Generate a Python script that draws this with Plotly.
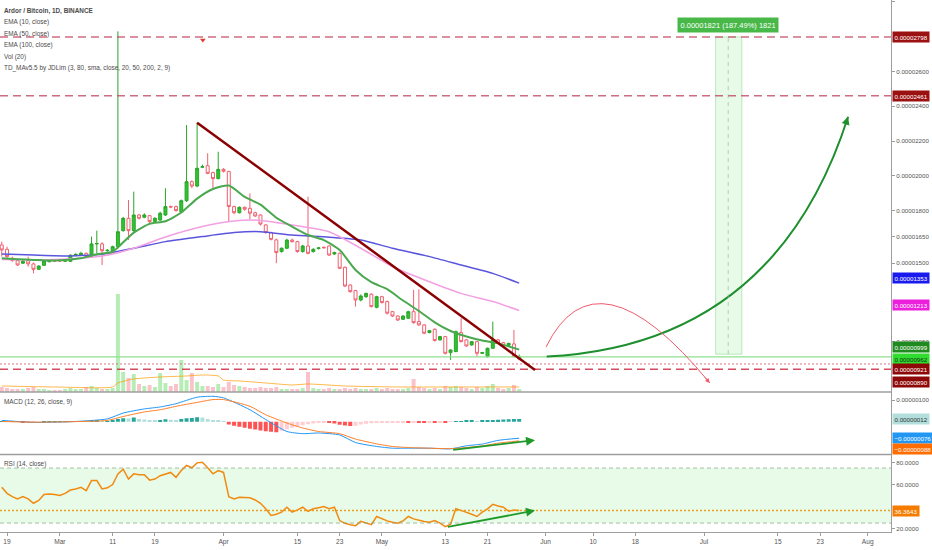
import numpy as np
import pandas as pd
import plotly.graph_objects as go

SAT = 1e-8  # prices are written in satoshi below
FONT = "Liberation Sans, Arial"

start = pd.Timestamp("2019-02-18")

# daily candles ARDR/BTC (satoshi)
opens = [1604, 1579, 1527, 1514, 1499, 1514, 1495, 1464, 1487, 1508,
         1514, 1516, 1510, 1510, 1543, 1546, 1556, 1537, 1610, 1610,
         1571, 1571, 1594, 1686, 1757, 1686, 1776, 1763, 1772, 1738,
         1747, 1776, 1824, 1824, 1795, 1858, 1967, 1942, 2050, 2059,
         2019, 1985, 2038, 2025, 1824, 1789, 1820, 1814, 1789, 1776,
         1719, 1675, 1633, 1566, 1585, 1632, 1623, 1566, 1598, 1566,
         1583, 1590, 1598, 1552, 1556, 1476, 1374, 1342, 1288, 1307,
         1321, 1246, 1307, 1279, 1221, 1196, 1177, 1183, 1221, 1164,
         1145, 1101, 1120, 1059, 1078, 986, 992, 1101, 1059, 1030,
         1049, 982, 963, 1011, 1059, 1043, 1028, 1036, 950]
highs = [1623, 1594, 1537, 1522, 1518, 1537, 1503, 1487, 1520, 1522,
         1520, 1522, 1520, 1550, 1556, 1565, 1560, 1652, 1686, 1620,
         1580, 1600, 2830, 1765, 1862, 1910, 1782, 1786, 1776, 1763,
         1795, 1929, 1830, 1830, 1865, 2292, 1975, 2306, 2065, 2130,
         2025, 2139, 2045, 2030, 1830, 1825, 1825, 1900, 1795, 1780,
         1722, 1680, 1640, 1590, 1640, 1640, 1628, 1605, 1881, 1585,
         1592, 1596, 1602, 1565, 1560, 1480, 1378, 1346, 1320, 1330,
         1326, 1312, 1312, 1285, 1225, 1200, 1200, 1226, 1346, 1349,
         1150, 1116, 1125, 1082, 1082, 1005, 1112, 1183, 1064, 1052,
         1053, 990, 1015, 1164, 1065, 1048, 1043, 1116, 975]
lows = [1537, 1522, 1508, 1483, 1495, 1479, 1441, 1460, 1483, 1503,
        1506, 1508, 1506, 1506, 1540, 1543, 1533, 1533, 1556, 1489,
        1565, 1565, 1590, 1680, 1633, 1680, 1750, 1757, 1730, 1732,
        1742, 1770, 1815, 1795, 1790, 1850, 1930, 1935, 2045, 2010,
        1929, 1980, 2020, 1738, 1780, 1785, 1800, 1751, 1765, 1715,
        1668, 1630, 1499, 1560, 1580, 1618, 1560, 1560, 1550, 1560,
        1578, 1584, 1540, 1546, 1465, 1362, 1330, 1250, 1280, 1300,
        1245, 1240, 1268, 1205, 1190, 1168, 1173, 1180, 1152, 1140,
        1092, 1097, 1050, 1055, 975, 944, 988, 1045, 1020, 1026,
        963, 978, 958, 1008, 1035, 1020, 1024, 958, 944]
closes = [1575, 1537, 1514, 1489, 1510, 1495, 1464, 1483, 1514, 1518,
          1512, 1512, 1516, 1545, 1550, 1556, 1537, 1610, 1612, 1571,
          1573, 1594, 1680, 1757, 1686, 1776, 1757, 1776, 1738, 1757,
          1786, 1824, 1822, 1801, 1858, 1967, 1942, 2044, 2053, 2015,
          1985, 2038, 2027, 1824, 1789, 1820, 1809, 1786, 1770, 1724,
          1675, 1636, 1560, 1585, 1632, 1623, 1566, 1598, 1556, 1579,
          1587, 1588, 1546, 1560, 1470, 1368, 1336, 1288, 1311, 1326,
          1250, 1307, 1273, 1212, 1196, 1173, 1196, 1221, 1158, 1145,
          1097, 1112, 1055, 1078, 982, 1001, 1106, 1049, 1024, 1049,
          982, 986, 1011, 1059, 1039, 1024, 1039, 963, 962]
volumes = [25, 20, 15, 15, 15, 20, 25, 15, 15, 10,
           10, 10, 15, 20, 15, 15, 25, 30, 20, 15,
           15, 20, 490, 100, 70, 90, 40, 30, 35, 25,
           95, 45, 30, 40, 160, 60, 95, 50, 30, 30,
           25, 40, 25, 50, 35, 30, 25, 20, 20, 25,
           20, 20, 25, 15, 15, 15, 15, 20, 100, 20,
           15, 15, 20, 15, 15, 20, 15, 20, 15, 15,
           15, 20, 15, 20, 15, 15, 15, 20, 65, 25,
           20, 15, 20, 15, 30, 25, 30, 25, 20, 15,
           25, 20, 30, 40, 20, 15, 20, 35, 15]

# moving averages read at sampled days (day index from start)
ema10_idx = [0, 3, 6, 9, 12, 15, 18, 21, 22, 25, 28, 31, 34, 37, 40, 43, 46, 49,
             52, 55, 58, 61, 64, 67, 70, 73, 76, 79, 82, 85, 88, 91, 94, 98]
ema10 = [1527, 1522, 1518, 1514, 1518, 1527, 1550, 1565, 1590, 1675, 1725, 1740,
         1790, 1870, 1925, 1945, 1880, 1835, 1760, 1709, 1661, 1632, 1575, 1460,
         1390, 1350, 1285, 1225, 1160, 1110, 1078, 1055, 1039, 1003]
ema50_idx = [0, 10, 19, 25, 31, 38, 44, 49, 55, 62, 68, 74, 81, 87, 93, 98]
ema50 = [1520, 1520, 1540, 1585, 1650, 1710, 1742, 1745, 1719, 1680, 1585, 1479,
         1393, 1326, 1279, 1228]
ema100_idx = [0, 6, 13, 19, 25, 31, 38, 44, 49, 55, 62, 68, 74, 81, 87, 93, 98]
ema100 = [1552, 1546, 1541, 1550, 1585, 1623, 1652, 1675, 1680, 1661, 1648, 1632,
          1585, 1537, 1489, 1441, 1385]
volma_idx = [0, 10, 21, 22, 25, 30, 35, 38, 41, 42, 45, 50, 55, 58, 65, 75, 85, 98]
volma = [30, 25, 25, 45, 65, 75, 80, 85, 80, 60, 55, 45, 35, 40, 30, 25, 25, 25]

# MACD (satoshi)
macd_idx = [0, 6, 13, 20, 23, 27, 30, 33, 37, 40, 42, 47, 50, 54, 57, 60, 64, 67,
            71, 74, 77, 81, 85, 88, 91, 94, 98]
macd = [6, -3, 0, 13, 40, 59, 68, 83, 113, 117, 110, 55, 10, -45, -55, -52, -61,
        -96, -114, -122, -122, -122, -125, -111, -103, -86, -76]
signal = [1, -2, 0, 6, 24, 45, 55, 71, 89, 102, 102, 71, 32, -6, -29, -45, -55,
          -80, -102, -114, -119, -122, -124, -119, -111, -99, -88]
macd_hist = [1, 0, -1, -1, -2, -2, -1, 0, 1, 1, 1, 2, 2, 2, 3, 3, 2, 4, 4, 3,
             3, 6, 13, 16, 15, 19, 13, 10, 6, 5, 6, 11, 9, 7, 13, 16, 17, 21, 19, 13,
             8, 6, 3, -13, -19, -23, -28, -32, -36, -40, -44, -46, -48, -42, -35, -28, -22, -16, -12, -8,
             -6, -5, -6, -8, -14, -18, -20, -19, -13, -9, -7, -6, -5, -4, -4, -3, -2, -3, -3, -4,
             -5, -3, -4, -2, -3, -1, 2, 3, 4, 4, 3, 4, 6, 7, 9, 10, 11, 12, 12]

rsi = [57.5, 52, 49, 47, 49, 47, 43, 45.5, 51, 51.5,
       51, 50, 52, 55, 56, 57.5, 54.5, 63.6, 63.6, 56,
       57, 60, 69.7, 74, 65, 69.7, 69, 69, 64, 65,
       68, 69.7, 71, 66.6, 72.7, 77.3, 75.2, 79.7, 80.3, 75.2,
       69.7, 72.7, 71, 49, 47, 48.5, 48.2, 48, 46, 43,
       38, 32, 33, 35, 39.4, 35, 37, 39.4, 35.7, 38,
       39, 40, 38, 39.4, 27.3, 24.8, 23.5, 22.7, 26.6, 25,
       23.6, 31, 28.8, 27, 25.7, 24.8, 27, 31, 28.8, 27.3,
       26.5, 25.7, 27.3, 25, 21.8, 24, 38, 36.5, 35, 33,
       31, 35, 38, 42, 40.5, 39.4, 35.7, 36.9, 36.36]

# drawings
h_levels = [2798, 2461]
support_dotted = 921
support_dashed = 890
last_price = 962
trend_start = ("2019-03-27", 2306)
trend_end = ("2019-05-30", 886)
green_curve = [("2019-06-01_05:00", 963), ("2019-07-14_11:00", 1030), ("2019-07-28_07:00", 2340)]
red_curve = [("2019-06-01_02:00", 1018), ("2019-06-10_14:00", 1604), ("2019-07-02_02:00", 812)]
measure_x = ("2019-07-03 05:00", "2019-07-08 04:00", "2019-07-05 14:00")
measure_low, measure_high = 977, 2798
measure_text = "0.00001821 (187.49%) 1821"
macd_arrow = (("2019-05-14 05:00", -131), ("2019-05-30", -85))
rsi_arrow = (("2019-05-13 05:00", 21.2), ("2019-05-30", 36.4))

tick_dates = ["2019-02-19", "2019-03-01", "2019-03-11", "2019-03-19", "2019-04-01",
              "2019-04-15", "2019-04-23", "2019-05-01", "2019-05-13", "2019-05-21",
              "2019-06-01", "2019-06-10", "2019-06-18", "2019-07-01", "2019-07-15",
              "2019-07-23", "2019-08-01"]
tick_text = ["19", "Mar", "11", "19", "Apr", "15", "23", "May", "13", "21",
             "Jun", "10", "18", "Jul", "15", "23", "Aug"]
price_ticks = [3000, 2600, 2400, 2200, 2000, 1800, 1650, 1500, 1050]

legend_lines = ["<b>Ardor / Bitcoin, 1D, BINANCE</b>", "EMA (10, close)", "EMA (50, close)",
                "EMA (100, close)", "Vol (20)",
                "TD_MAv5.5 by JDLim (3, 80, sma, close, 20, 50, 200, 2, 9)"]


def days(idx):
    return start + pd.to_timedelta(idx, unit="D")


def sat(v):
    return np.asarray(v, dtype=float) * SAT


dates = days(np.arange(len(closes)))
o, h, l, c = sat(opens), sat(highs), sat(lows), sat(closes)

fig = go.Figure()

vol_colors = ["rgba(90,215,90,0.45)" if cl >= op else "rgba(245,120,140,0.45)"
              for op, cl in zip(opens, closes)]
fig.add_trace(go.Bar(x=dates, y=volumes, marker=dict(color=vol_colors, line=dict(width=0)),
                     width=86400000 * 0.75, yaxis="y4"))
fig.add_trace(go.Scatter(x=days(volma_idx), y=volma, mode="lines", yaxis="y4",
                         line=dict(color="rgba(255,152,0,0.7)", width=1, shape="spline", smoothing=0.6)))

fig.add_trace(go.Scatter(x=days(ema100_idx), y=sat(ema100), mode="lines",
                         line=dict(color="#5a55dc", width=1.5, shape="spline", smoothing=0.6)))
fig.add_trace(go.Scatter(x=days(ema50_idx), y=sat(ema50), mode="lines",
                         line=dict(color="#f2a0e2", width=1.5, shape="spline", smoothing=0.6)))
fig.add_trace(go.Scatter(x=days(ema10_idx), y=sat(ema10), mode="lines",
                         line=dict(color="#4aa84f", width=2, shape="spline", smoothing=0.6)))

fig.add_trace(go.Candlestick(
    x=dates, open=o, high=h, low=l, close=c, whiskerwidth=0,
    increasing=dict(line=dict(color="#2aa52a", width=1), fillcolor="#2fc42f"),
    decreasing=dict(line=dict(color="#f06070", width=1), fillcolor="#ffffff"),
))

fig.add_trace(go.Scatter(x=[pd.Timestamp("2019-03-28 02:00")], y=[2780 * SAT], mode="markers",
                         marker=dict(symbol="triangle-down", size=5, color="#e53935")))

# MACD pane
hist_colors = []
for k, v in enumerate(macd_hist):
    prev = macd_hist[k - 1] if k else v
    if v >= 0:
        hist_colors.append("#26a69a" if v >= prev else "#b2dfdb")
    else:
        hist_colors.append("#ff5252" if v < prev else "#ffcdd2")
fig.add_trace(go.Bar(x=dates, y=sat(macd_hist), marker=dict(color=hist_colors, line=dict(width=0)),
                     width=86400000 * 0.75, yaxis="y2"))
fig.add_trace(go.Scatter(x=days(macd_idx), y=sat(macd), mode="lines", yaxis="y2",
                         line=dict(color="#2196f3", width=1, shape="spline", smoothing=0.6)))
fig.add_trace(go.Scatter(x=days(macd_idx), y=sat(signal), mode="lines", yaxis="y2",
                         line=dict(color="#ff7f27", width=1, shape="spline", smoothing=0.6)))

# RSI pane
fig.add_trace(go.Scatter(x=dates, y=rsi, mode="lines", yaxis="y3",
                         line=dict(color="#f08a10", width=1.5)))

shapes = []
for lvl in h_levels:
    shapes.append(dict(type="line", xref="paper", x0=0, x1=1, yref="y", y0=lvl * SAT, y1=lvl * SAT,
                       line=dict(color="rgba(192,70,95,0.8)", width=1.5, dash="8px,5px")))
shapes.append(dict(type="line", xref="paper", x0=0, x1=1, yref="y",
                   y0=last_price * SAT, y1=last_price * SAT,
                   line=dict(color="#8fe08f", width=1.2)))
shapes.append(dict(type="line", xref="paper", x0=0, x1=1, yref="y",
                   y0=support_dotted * SAT, y1=support_dotted * SAT,
                   line=dict(color="rgba(200,90,110,0.8)", width=1, dash="2px,2px")))
shapes.append(dict(type="line", xref="paper", x0=0, x1=1, yref="y",
                   y0=support_dashed * SAT, y1=support_dashed * SAT,
                   line=dict(color="rgba(205,45,65,0.85)", width=1.5, dash="8px,5px")))
shapes.append(dict(type="line", xref="x", yref="y", x0=trend_start[0], y0=trend_start[1] * SAT,
                   x1=trend_end[0], y1=trend_end[1] * SAT, line=dict(color="#8b0000", width=2.5)))


def curve_path(pts):
    (x0, y0), (cx, cy), (x1, y1) = pts
    return (f"M {x0},{y0 * SAT:.10f} Q {cx},{cy * SAT:.10f} {x1},{y1 * SAT:.10f}")


shapes.append(dict(type="path", xref="x", yref="y", path=curve_path(green_curve),
                   line=dict(color="#1e8f2e", width=2)))
shapes.append(dict(type="path", xref="x", yref="y", path=curve_path(red_curve),
                   line=dict(color="#f05a6a", width=1)))

shapes.append(dict(type="rect", xref="x", yref="y", x0=measure_x[0], x1=measure_x[1],
                   y0=measure_low * SAT, y1=measure_high * SAT,
                   fillcolor="rgba(130,225,130,0.18)", line=dict(color="rgba(150,220,150,0.6)", width=1),
                   layer="below"))
shapes.append(dict(type="line", xref="x", yref="y", x0=measure_x[2], x1=measure_x[2],
                   y0=measure_low * SAT, y1=measure_high * SAT,
                   line=dict(color="rgba(160,180,160,0.7)", width=1, dash="4px,4px")))

# RSI band
shapes.append(dict(type="rect", xref="paper", x0=0, x1=1, yref="y3", y0=25, y1=75,
                   fillcolor="rgba(150,235,150,0.22)", line=dict(width=0), layer="below"))
for lvl in (25, 75):
    shapes.append(dict(type="line", xref="paper", x0=0, x1=1, yref="y3", y0=lvl, y1=lvl,
                       line=dict(color="rgba(130,160,130,0.7)", width=1, dash="4px,3px")))
shapes.append(dict(type="line", xref="paper", x0=0, x1=1, yref="y3", y0=rsi[-1], y1=rsi[-1],
                   line=dict(color="#e8a020", width=1.5, dash="2px,2px")))

# pane separators
for yp in (0.2632, 0.1457):
    shapes.append(dict(type="line", xref="paper", x0=0, x1=1, yref="paper", y0=yp, y1=yp,
                       line=dict(color="#9e9e9e", width=1.5)))

annotations = []
for k, txt in enumerate(legend_lines):
    annotations.append(dict(xref="paper", yref="paper", x=0, y=1, xanchor="left", yanchor="middle",
                            xshift=2, yshift=-11 - 11.4 * k, text=txt, showarrow=False,
                            font=dict(family=FONT, size=6.4, color="#4a4a4a")))
annotations.append(dict(xref="paper", yref="paper", x=0, y=0.2632, xanchor="left", yanchor="middle",
                        xshift=2, yshift=-10, text="MACD (12, 26, close, 9)", showarrow=False,
                        font=dict(family=FONT, size=6.4, color="#4a4a4a")))
annotations.append(dict(xref="paper", yref="paper", x=0, y=0.1457, xanchor="left", yanchor="middle",
                        xshift=2, yshift=-10, text="RSI (14, close)", showarrow=False,
                        font=dict(family=FONT, size=6.4, color="#4a4a4a")))


def axis_label(value, text, yref, bg, fg="#ffffff", yshift=0):
    annotations.append(dict(xref="paper", x=1, xanchor="left", xshift=1, yref=yref, y=value,
                            yanchor="middle", yshift=yshift, text=text, showarrow=False,
                            bgcolor=bg, borderpad=1.5,
                            font=dict(family=FONT, size=6.2, color=fg)))


def fmt(v):
    s = f"{abs(v) * SAT:.8f}"
    return ("\u2212" + s) if v < 0 else s


axis_label(2798 * SAT, fmt(2798), "y", "#9b1010")
axis_label(2461 * SAT, fmt(2461), "y", "#9b1010")
axis_label(ema100[-1] * SAT, fmt(1353), "y", "#1a1aee", yshift=5)
axis_label(ema50[-1] * SAT, fmt(1213), "y", "#ec20dc", yshift=5)
axis_label(ema10[-1] * SAT, fmt(999), "y", "#1f8a1f", yshift=3)
axis_label(last_price * SAT, fmt(962), "y", "#2fdc2f", fg="#103010", yshift=-2)
axis_label(support_dotted * SAT, fmt(921), "y", "#8e0808", yshift=-5)
axis_label(support_dashed * SAT, fmt(890), "y", "#8e0808", yshift=-13)
axis_label(macd_hist[-1] * SAT, fmt(12), "y2", "#b2dfdb", fg="#333333")
axis_label(macd[-1] * SAT, fmt(-76), "y2", "#2196f3")
axis_label(signal[-1] * SAT, fmt(-88), "y2", "#ff6d00", yshift=-8)
axis_label(rsi[-1], "36.3643", "y3", "#f57c00")

annotations.append(dict(xref="x", yref="y", x=measure_x[2], y=measure_high * SAT, yshift=12,
                        text=measure_text, showarrow=False, bgcolor="#48b848", borderpad=2.5,
                        font=dict(family=FONT, size=7.5, color="#ffffff")))

# arrow heads of the curves
annotations.append(dict(xref="x", yref="y", x=green_curve[2][0].replace("_", " "),
                        y=green_curve[2][1] * SAT, ax=-3, ay=9, text="", showarrow=True,
                        arrowhead=2, arrowsize=1, arrowwidth=1.6, arrowcolor="#1e8f2e"))
annotations.append(dict(xref="x", yref="y", x=red_curve[2][0].replace("_", " "),
                        y=red_curve[2][1] * SAT, ax=-6, ay=-7, text="", showarrow=True,
                        arrowhead=2, arrowsize=0.9, arrowwidth=1, arrowcolor="#f05a6a"))

# divergence arrows
for (tail, head), yr in ((macd_arrow, "y2"), (rsi_arrow, "y3")):
    scale = SAT if yr == "y2" else 1
    annotations.append(dict(xref="x", yref=yr, axref="x", ayref=yr,
                            x=head[0], y=head[1] * scale, ax=tail[0], ay=tail[1] * scale,
                            text="", showarrow=True, arrowhead=2, arrowsize=1,
                            arrowwidth=1.8, arrowcolor="#1f9a2a"))

axis_font = dict(family=FONT, size=6.2, color="#555555")
common_y = dict(side="right", anchor="x", showgrid=False, zeroline=False, showline=True,
                linecolor="#9e9e9e", ticks="outside", ticklen=3, tickcolor="#9e9e9e",
                tickfont=axis_font, automargin=False)

fig.update_layout(
    width=932, height=550,
    margin=dict(l=0, r=41, t=0, b=18),
    paper_bgcolor="white", plot_bgcolor="white",
    showlegend=False, boxgap=0.2,
    shapes=shapes, annotations=annotations,
    xaxis=dict(type="date", range=["2019-02-17 16:00", "2019-08-05 10:00"], domain=[0, 1],
               anchor="y3", tickvals=tick_dates, ticktext=tick_text, ticks="outside",
               ticklen=3, tickcolor="#9e9e9e", showline=True, linecolor="#9e9e9e",
               showgrid=False, zeroline=False, tickfont=dict(family=FONT, size=6.6, color="#555555"),
               rangeslider=dict(visible=False), automargin=False),
    yaxis=dict(domain=[0.2632, 1], range=[760 * SAT, 3010 * SAT],
               tickvals=[v * SAT for v in price_ticks], tickformat=".8f", **common_y),
    yaxis2=dict(domain=[0.1457, 0.2632], range=[-151 * SAT, 137 * SAT],
                tickvals=[100 * SAT], tickformat=".8f", **common_y),
    yaxis3=dict(domain=[0, 0.1457], range=[16.9, 87.3], tickvals=[20, 60, 80],
                tickformat=".4f", **common_y),
    yaxis4=dict(overlaying="y", range=[0, 1960], visible=False),
)

fig.write_html("out.html", config={"displayModeBar": False},
               post_script="document.body.style.margin='0';document.body.style.overflow='hidden';")
